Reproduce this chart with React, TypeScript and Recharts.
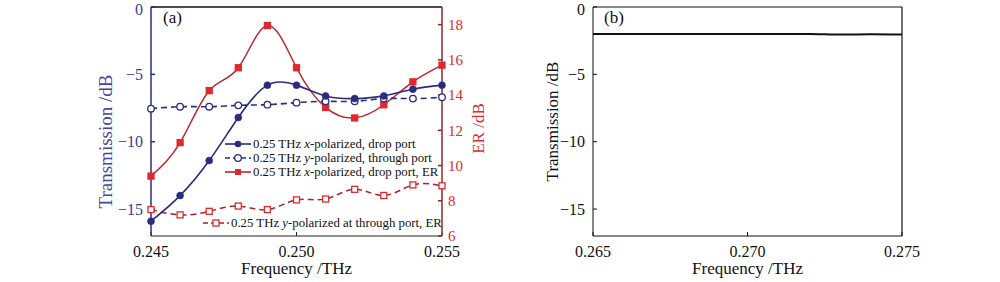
import React from 'react';
import { LineChart, Line, XAxis, YAxis, ReferenceLine, Legend } from 'recharts';

const freqA = [0.245, 0.246, 0.247, 0.248, 0.249, 0.25, 0.251, 0.252, 0.253, 0.254, 0.255];
const xDrop = [-15.9, -14.0, -11.4, -8.2, -5.8, -5.8, -6.6, -6.8, -6.6, -6.1, -5.8];
const yThrough = [-7.55, -7.4, -7.4, -7.3, -7.25, -7.1, -7.0, -7.0, -6.8, -6.8, -6.7];
const xER = [9.4, 11.3, 14.25, 15.55, 17.95, 15.55, 13.3, 12.7, 13.45, 14.75, 15.7];
const yER = [7.5, 7.2, 7.4, 7.7, 7.5, 8.05, 8.1, 8.65, 8.3, 8.9, 8.85];

const freqB = [0.265, 0.266, 0.267, 0.268, 0.269, 0.27, 0.271, 0.272, 0.273, 0.274, 0.275];
const transB = [-2.0, -2.0, -2.0, -2.0, -2.0, -2.0, -2.0, -2.0, -2.05, -2.02, -2.05];

const ticksA = [0.245, 0.25, 0.255];
const ticksB = [0.265, 0.27, 0.275];
const ticksT = [-15, -10, -5, 0];
const ticksER = [6, 8, 10, 12, 14, 16, 18];

const dataA = freqA.map((f, i) => ({ f, xDrop: xDrop[i], yThrough: yThrough[i], xER: xER[i], yER: yER[i] }));
const dataB = freqB.map((f, i) => ({ f, t: transB[i] }));

const BLUE = '#2b2c80';
const RED = '#e0282e';
const FONT = 'Liberation Serif, DejaVu Serif, serif';

const fmtY = (v: number) => String(v).replace('-', '\u2212');
const fmtX = (v: number) => v.toFixed(3);

const square = (fill: string) => (p: any) => (
  <rect key={`sq-${p.index}`} x={p.cx - 3} y={p.cy - 3} width={6} height={6} fill={fill} stroke={RED} strokeWidth={1.3} />
);

const Sample = ({ color, dashed, kind }: { color: string; dashed?: boolean; kind: string }) => (
  <svg width={26} height={12} style={{ display: 'block' }}>
    <line x1={0} x2={26} y1={6} y2={6} stroke={color} strokeWidth={1.6} strokeDasharray={dashed ? '5 3' : undefined} />
    {kind === 'dot' && <circle cx={13} cy={6} r={3.3} fill={color} />}
    {kind === 'ring' && <circle cx={13} cy={6} r={3.3} fill="#fff" stroke={color} strokeWidth={1.3} />}
    {kind === 'sq' && <rect x={10} y={3} width={6} height={6} fill={RED} />}
    {kind === 'osq' && <rect x={10} y={3} width={6} height={6} fill="#fff" stroke={RED} strokeWidth={1.3} />}
  </svg>
);

const rows = [
  { left: 225, top: 144, color: BLUE, kind: 'dot', text: <>0.25 THz <i>x</i>-polarized, drop port</> },
  { left: 225, top: 158, color: BLUE, kind: 'ring', dashed: true, text: <>0.25 THz <i>y</i>-polarized, through port</> },
  { left: 225, top: 172, color: '#b8262b', kind: 'sq', text: <>0.25 THz <i>x</i>-polarized, drop port, ER</> },
  { left: 203, top: 223, color: '#a3262b', kind: 'osq', dashed: true, text: <>0.25 THz <i>y</i>-polarized at through port, ER</> },
];

const renderLegend = () => (
  <div style={{ position: 'relative', width: 500, height: 282, fontFamily: FONT, fontSize: 12.8, color: '#111' }}>
    {rows.map((r, i) => (
      <div key={i} style={{ position: 'absolute', left: r.left, top: r.top - 7, height: 14, display: 'flex', alignItems: 'center', whiteSpace: 'nowrap' }}>
        <Sample color={r.color} dashed={r.dashed} kind={r.kind} />
        <span style={{ marginLeft: 2, lineHeight: '14px' }}>{r.text}</span>
      </div>
    ))}
  </div>
);

export default function App() {
  return (
    <div style={{ position: 'absolute', left: 0, top: 0, width: 1000, height: 282, background: '#fff', fontFamily: FONT }}>
      <style>{`svg text { font-family: 'Liberation Serif', 'DejaVu Serif', serif; }`}</style>
      <div style={{ position: 'absolute', left: 0, top: 0 }}>
        <LineChart width={500} height={282} data={dataA} margin={{ top: 7, right: 0, bottom: 16, left: 91 }}>
          <XAxis
            dataKey="f" type="number" domain={[0.245, 0.255]} ticks={ticksA} tickFormatter={fmtX}
            stroke="#222" tickSize={-4} tickMargin={14} height={30}
            tick={{ fill: '#111', fontSize: 16, fontFamily: FONT }}
            label={{ value: 'Frequency /THz', position: 'bottom', offset: -4, fill: '#111', fontSize: 17, fontFamily: FONT }}
          />
          <YAxis
            yAxisId="left" domain={[-17, 0]} ticks={ticksT} tickFormatter={fmtY} width={60}
            stroke={BLUE} strokeWidth={1.5} tickSize={-4} tickMargin={12}
            tick={{ fill: '#3d3d8f', fontSize: 16, fontFamily: FONT }}
            label={{ value: 'Transmission /dB', angle: -90, position: 'center', dx: -16, dy: 20, fill: '#4646a0', fontSize: 19, fontFamily: FONT }}
          />
          <YAxis
            yAxisId="right" orientation="right" domain={[6, 19]} ticks={ticksER} width={58}
            stroke="#8c2a2a" strokeWidth={1.5} tickSize={-4} tickMargin={10}
            tick={{ fill: RED, fontSize: 15, fontFamily: FONT }}
            label={{ value: 'ER /dB', angle: -90, position: 'center', dx: 7, dy: 7, fill: RED, fontSize: 17, fontFamily: FONT }}
          />
          <ReferenceLine yAxisId="left" y={0} stroke="#111" strokeWidth={1.5} />
          <Line yAxisId="right" dataKey="yER" type="natural" stroke="#a3262b" strokeWidth={1.5} strokeDasharray="6 4"
            dot={square('#fff')} isAnimationActive={false} />
          <Line yAxisId="right" dataKey="xER" type="natural" stroke="#b8262b" strokeWidth={1.5}
            dot={square(RED)} isAnimationActive={false} />
          <Line yAxisId="left" dataKey="yThrough" type="natural" stroke={BLUE} strokeWidth={1.6} strokeDasharray="6 4"
            dot={{ r: 3.3, fill: '#fff', stroke: BLUE, strokeWidth: 1.3, strokeDasharray: '' }} isAnimationActive={false} />
          <Line yAxisId="left" dataKey="xDrop" type="natural" stroke={BLUE} strokeWidth={1.6}
            dot={{ r: 3.5, fill: BLUE, stroke: BLUE, strokeWidth: 0.5 }} isAnimationActive={false} />
          <Legend content={renderLegend} layout="horizontal" verticalAlign="middle" align="center"
            wrapperStyle={{ left: 0, top: 0, width: 500, height: 282, pointerEvents: 'none' }} />
          <text x={163} y={23} fontSize={17} fontFamily={FONT} fill="#111">(a)</text>
        </LineChart>
      </div>
      <div style={{ position: 'absolute', left: 500, top: 0 }}>
        <LineChart width={500} height={282} data={dataB} margin={{ top: 7, right: 98, bottom: 16, left: 33 }}>
          <XAxis
            dataKey="f" type="number" domain={[0.265, 0.275]} ticks={ticksB} tickFormatter={fmtX}
            stroke="#111" tickSize={-4} tickMargin={14} height={30}
            tick={{ fill: '#111', fontSize: 16, fontFamily: FONT }}
            label={{ value: 'Frequency /THz', position: 'bottom', offset: -4, fill: '#111', fontSize: 17, fontFamily: FONT }}
          />
          <YAxis
            domain={[-17, 0]} ticks={ticksT} tickFormatter={fmtY} width={60}
            stroke="#111" tickSize={-4} tickMargin={12}
            tick={{ fill: '#111', fontSize: 16, fontFamily: FONT }}
            label={{ value: 'Transmission /dB', angle: -90, position: 'center', dx: -11, dy: 0, fill: '#111', fontSize: 17, fontFamily: FONT }}
          />
          <ReferenceLine y={0} stroke="#111" strokeWidth={1.2} />
          <ReferenceLine x={0.275} stroke="#111" strokeWidth={1.2} />
          <Line dataKey="t" type="monotone" stroke="#111" strokeWidth={2} dot={false} isAnimationActive={false} />
          <text x={104} y={23} fontSize={17} fontFamily={FONT} fill="#111">(b)</text>
        </LineChart>
      </div>
    </div>
  );
}
